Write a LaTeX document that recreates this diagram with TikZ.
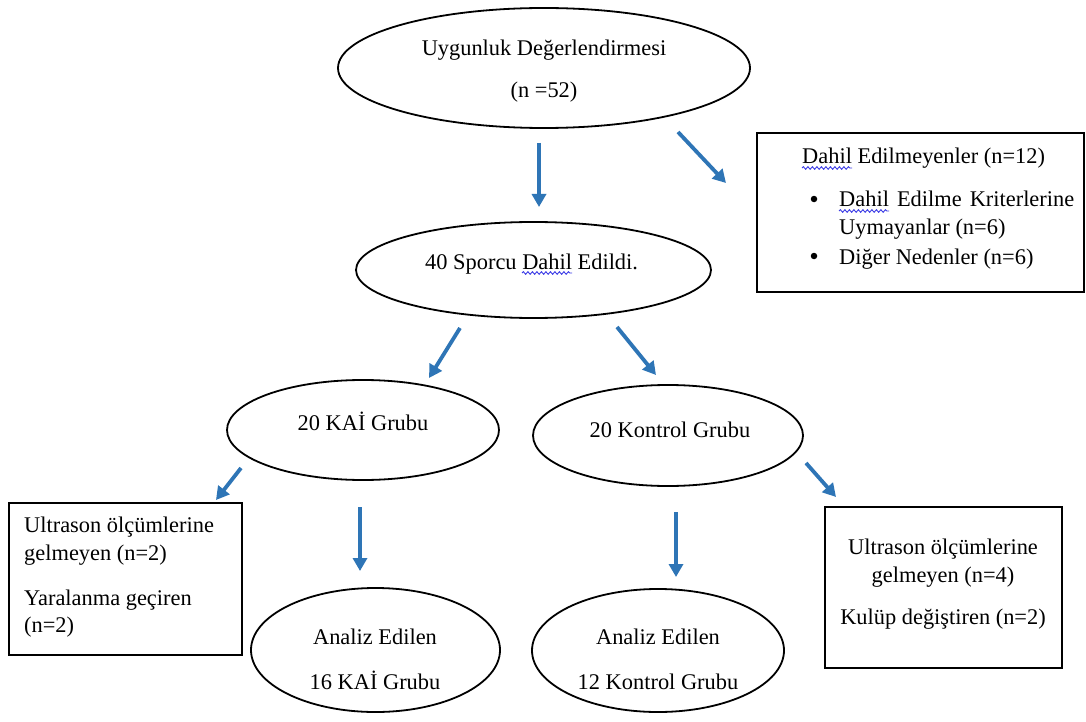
\documentclass[tikz,border=0pt]{standalone}
\usepackage{fontspec}
\setmainfont{Liberation Serif}
\usetikzlibrary{arrows.meta,shapes.geometric,decorations.pathmorphing}
\definecolor{arrowblue}{RGB}{46,117,182}
\definecolor{wavyblue}{RGB}{60,60,230}
\begin{document}
\begin{tikzpicture}[x=1pt,y=-1pt,
  every node/.style={font=\fontsize{22.4}{27}\selectfont},
  oval/.style={draw=black, line width=1.8pt, ellipse, inner sep=0pt},
  framebox/.style={draw=black, line width=1.8pt, rectangle, inner sep=0pt},
  txt/.style={inner sep=0pt, anchor=base},
  ltxt/.style={inner sep=0pt, anchor=base west},
  dot/.style={circle, fill=black, inner sep=0pt, minimum size=6.5pt},
  flow/.style={draw=arrowblue, line width=3.8pt, -{Triangle[length=13pt,width=14pt]}},
  wavy/.style={draw=wavyblue, line width=0.9pt, decorate, decoration={snake, amplitude=1.3pt, segment length=4.5pt}}
]
\useasboundingbox (0,0) rectangle (1086,722);
\fill[white] (0,0) rectangle (1086,722);

% ellipses
\node (e1) [oval, minimum width=412pt, minimum height=120pt] at (544,68) {};
\node (e2) [oval, minimum width=355pt, minimum height=96pt] at (533.5,270) {};
\node (e3) [oval, minimum width=272pt, minimum height=100pt] at (363,430) {};
\node (e4) [oval, minimum width=270pt, minimum height=101pt] at (668,435.5) {};
\node (e5) [oval, minimum width=249pt, minimum height=124pt] at (375.5,650) {};
\node (e6) [oval, minimum width=252pt, minimum height=123pt] at (658,650.5) {};

% boxes
\node (b1) [framebox, minimum width=327pt, minimum height=159pt] at (920.5,212.5) {};
\node (b2) [framebox, minimum width=233pt, minimum height=152pt] at (125.5,579) {};
\node (b3) [framebox, minimum width=237pt, minimum height=161pt] at (943.5,587.5) {};

% texts in ellipses
\node (t1a) [txt] at (544,55.5) {Uygunluk Değerlendirmesi};
\node (t1b) [txt] at (544,98) {(n =52)};
\node (t2) [ltxt] at (425,269) {40 Sporcu Dahil Edildi.};
\node (t3) [txt] at (363,430) {20 KAİ Grubu};
\node (t4) [txt] at (670,437) {20 Kontrol Grubu};
\node (t5a) [txt] at (375,644) {Analiz Edilen};
\node (t5b) [txt] at (375,689) {16 KAİ Grubu};
\node (t6a) [txt] at (658,644) {Analiz Edilen};
\node (t6b) [txt] at (658,689) {12 Kontrol Grubu};

% texts in box 1
\node (b1l1) [ltxt] at (802,164) {Dahil Edilmeyenler (n=12)};
\node (b1d1) [dot] at (814,199) {};
\node (b1l2) [ltxt] at (839,207) {\makebox[235pt][s]{Dahil Edilme Kriterlerine}};
\node (b1l3) [ltxt] at (839,234) {Uymayanlar (n=6)};
\node (b1d2) [dot] at (814,256) {};
\node (b1l4) [ltxt] at (839,264) {Diğer Nedenler (n=6)};

% texts in box 2
\node (b2l1) [ltxt] at (24,532) {Ultrason ölçümlerine};
\node (b2l2) [ltxt] at (24,560) {gelmeyen (n=2)};
\node (b2l3) [ltxt] at (24,605) {Yaralanma geçiren};
\node (b2l4) [ltxt] at (24,632) {(n=2)};

% texts in box 3
\node (b3l1) [txt] at (943,554) {Ultrason ölçümlerine};
\node (b3l2) [txt] at (943,582) {gelmeyen (n=4)};
\node (b3l3) [txt] at (943,624) {Kulüp değiştiren (n=2)};

% wavy spell-check underlines
\draw[wavy] (802,168) -- (852,168);
\draw[wavy] (839,211) -- (889,211);
\draw[wavy] (522,273) -- (572,273);

% arrow end points
\coordinate (a1s) at (539,143);  \coordinate (a1e) at (539,207);
\coordinate (a2s) at (678,132);  \coordinate (a2e) at (726,183);
\coordinate (a3s) at (460,328);  \coordinate (a3e) at (429,378);
\coordinate (a4s) at (617,327);  \coordinate (a4e) at (656,375);
\coordinate (a5s) at (241,468);  \coordinate (a5e) at (216,500);
\coordinate (a6s) at (360,507);  \coordinate (a6e) at (360,571);
\coordinate (a7s) at (676,512);  \coordinate (a7e) at (676,577);
\coordinate (a8s) at (806,463);  \coordinate (a8e) at (836,497);

\draw[flow] (a1s) -- (a1e);
\draw[flow] (a2s) -- (a2e);
\draw[flow] (a3s) -- (a3e);
\draw[flow] (a4s) -- (a4e);
\draw[flow] (a5s) -- (a5e);
\draw[flow] (a6s) -- (a6e);
\draw[flow] (a7s) -- (a7e);
\draw[flow] (a8s) -- (a8e);
\end{tikzpicture}
\end{document}
